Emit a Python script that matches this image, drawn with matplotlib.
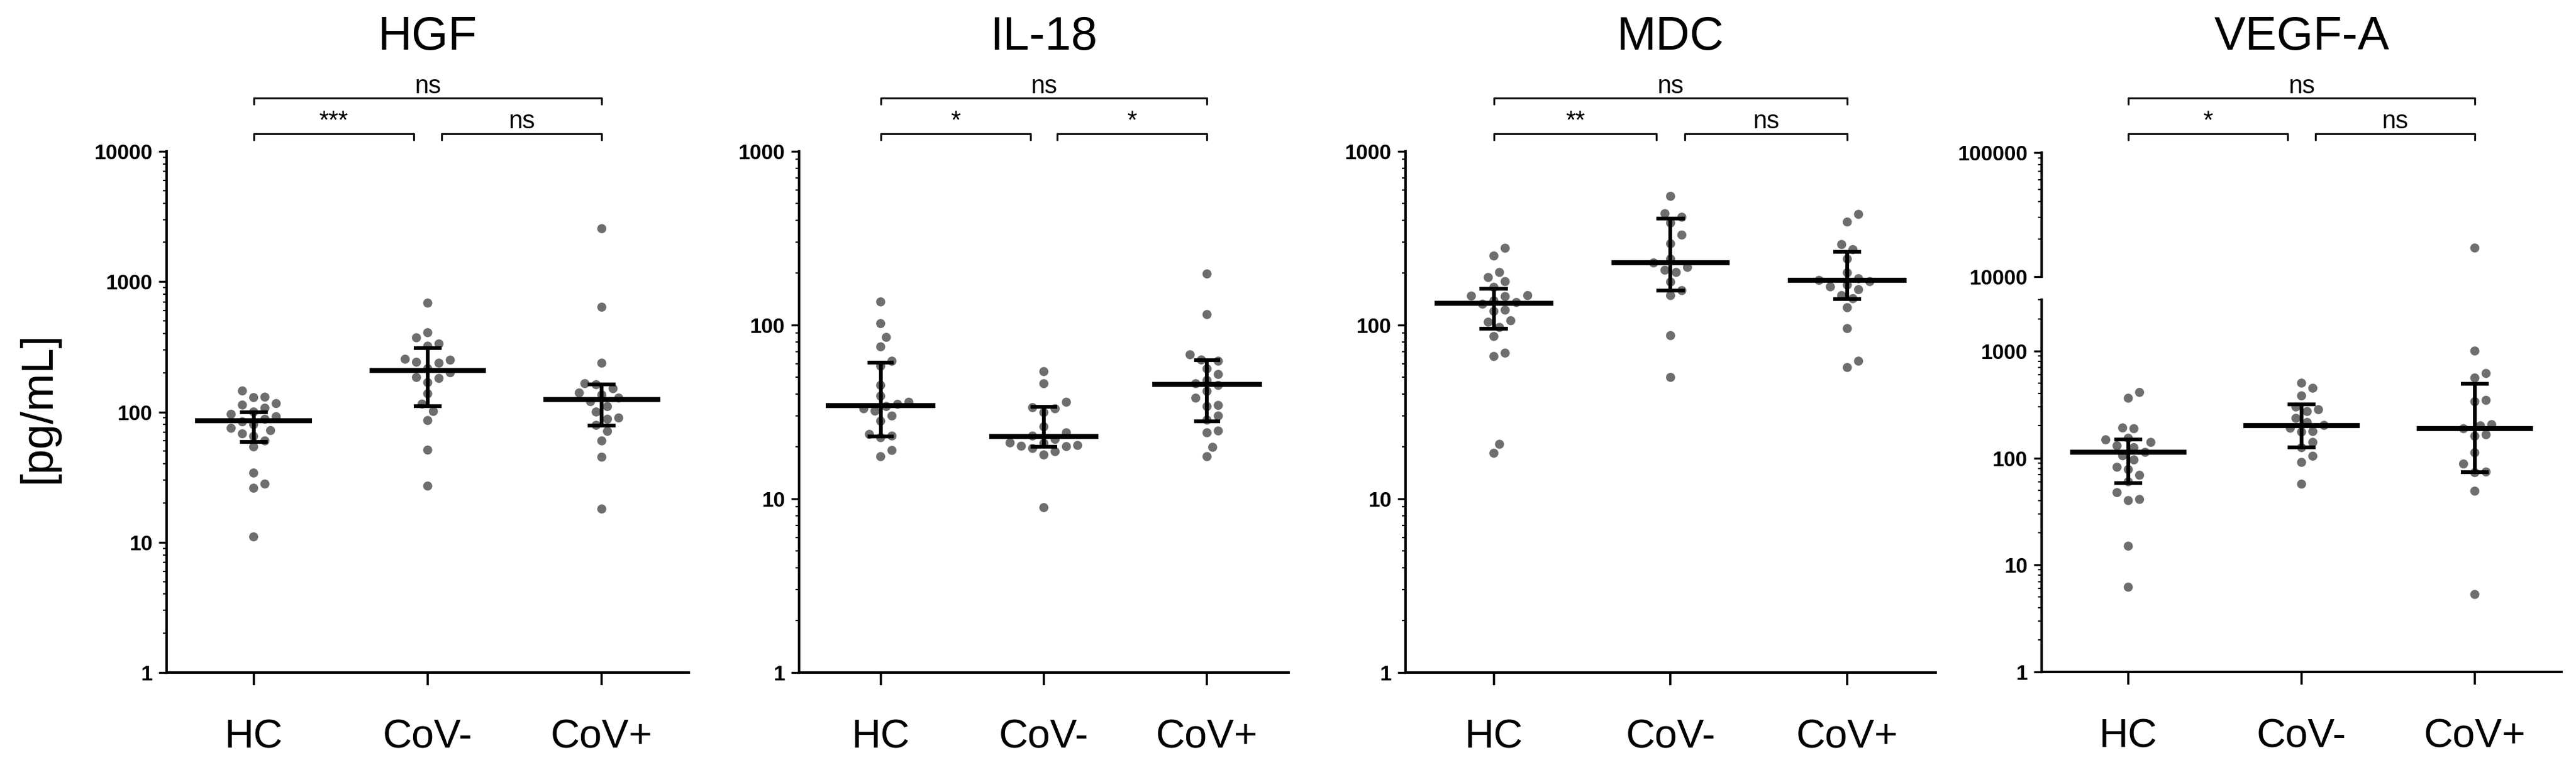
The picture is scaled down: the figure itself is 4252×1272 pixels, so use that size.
import numpy as np
import matplotlib
matplotlib.use("Agg")
import matplotlib.pyplot as plt
from matplotlib.ticker import FixedLocator, FuncFormatter, LogLocator, NullFormatter
from matplotlib.transforms import blended_transform_factory

plt.rcParams["font.family"] = ["Liberation Sans", "DejaVu Sans"]

W, H, DPI = 4252, 1272, 100

GROUPS = ["HC", "CoV-", "CoV+"]

# ---- HGF [pg/mL] ----
hgf_hc = [145, 130, 129, 116, 113, 107, 100, 96, 92, 88, 84, 80, 75, 72, 68, 65, 60, 54, 34, 28, 26, 11]
hgf_covneg = [685, 406, 371, 333, 320, 254, 250, 241, 237, 215, 200, 184, 181, 168, 138, 115, 101, 86, 51, 27]
hgf_covpos = [2550, 637, 237, 165, 162, 151, 140, 135, 128, 120, 110, 100, 90, 88, 79, 71, 60, 45, 18]
hgf_median = [86, 208, 124]
hgf_q1 = [59, 111, 79]
hgf_q3 = [100, 310, 162]
hgf_sig = ["***", "ns", "ns"]   # HC vs CoV-, CoV- vs CoV+, HC vs CoV+

# ---- IL-18 ----
il18_hc = [136, 102, 85, 75, 62, 58, 45, 39, 36, 35, 34, 33, 32, 30, 28, 23.5, 23, 22.5, 19, 17.5]
il18_covneg = [54, 46, 36, 33.5, 33, 31.4, 26, 24, 23, 22, 21, 20.9, 20.3, 20.1, 20, 19.5, 18.7, 17.9, 8.9]
il18_covpos = [197, 115, 67.5, 63, 62, 56, 52, 48, 46, 45, 41.6, 38, 34.5, 34, 30, 28.4, 24.6, 24, 19.8, 17.5]
il18_median = [34.5, 22.9, 45.4]
il18_q1 = [22.9, 20, 27.9]
il18_q3 = [60.6, 33.8, 62.7]
il18_sig = ["*", "*", "ns"]

# ---- MDC ----
mdc_hc = [277, 250, 201, 188, 178, 165, 148, 147, 146, 138, 135, 132, 122, 120, 106, 104, 97, 86, 69, 66, 20.6, 18.3]
mdc_covneg = [551, 438, 418, 387, 330, 294, 240, 228, 215, 207, 201, 177, 158, 148, 87, 50]
mdc_covpos = [434, 392, 291, 272, 240, 200, 185, 181, 178, 170, 166, 160, 148, 142, 126, 95.5, 62, 57]
mdc_median = [133.5, 228, 181]
mdc_q1 = [95.5, 158, 141]
mdc_q3 = [162, 409, 264]
mdc_sig = ["**", "ns", "ns"]

# ---- VEGF-A ----
vegf_hc = [410, 362, 191, 188, 153, 148, 140, 130, 125, 113, 105, 96, 82, 78, 69, 60, 47.5, 41, 40, 15, 6.2]
vegf_covneg = [501, 449, 381, 300, 283, 272, 235, 215, 202, 190, 177, 175, 140, 125, 104, 91, 57]
vegf_covpos = [17000, 1000, 617, 560, 346, 336, 205, 200, 188, 165, 160, 112, 88, 74, 73, 49, 5.3]
vegf_median = [113.5, 202, 188]
vegf_q1 = [58, 125, 74]
vegf_q3 = [148, 316, 494]
vegf_sig = ["*", "ns", "ns"]

DOT_COLOR = "#6e6e6e"
DOT_PX = 15


def fx(px):
    return px / W


def fy(px):
    return 1 - px / H


def swarm_x(ax, values, center):
    """Prism-like scatter: spread points sideways where they would overlap."""
    vals = np.asarray(values, float)
    ys = ax.transData.transform(np.column_stack([np.full(len(vals), center), vals]))[:, 1]
    unit = ax.transData.transform((1, 1))[0] - ax.transData.transform((0, 1))[0]
    step = DOT_PX * 0.62
    cands = [0]
    for n in range(1, 40):
        cands += [n, -n]
    placed, xs = [], np.zeros(len(vals))
    for i in np.argsort(ys):
        for c in cands:
            x = c * step
            if all((x - px) ** 2 + (ys[i] - py) ** 2 >= (DOT_PX * 1.15) ** 2 for px, py in placed):
                break
        placed.append((x, ys[i]))
        xs[i] = center + x / unit
    return xs


def style_log_axis(ax, ylim, majors):
    ax.set_yscale("log")
    ax.set_ylim(*ylim)
    ax.set_xlim(-0.5, 2.5)
    ax.yaxis.set_major_locator(FixedLocator(majors))
    ax.yaxis.set_major_formatter(FuncFormatter(lambda v, p: f"{v:g}"))
    ax.yaxis.set_minor_locator(LogLocator(base=10, subs=np.arange(2, 10), numticks=20))
    ax.yaxis.set_minor_formatter(NullFormatter())
    for s in ["top", "right"]:
        ax.spines[s].set_visible(False)
    for s in ["left", "bottom"]:
        ax.spines[s].set_linewidth(3)
    ax.tick_params(axis="y", which="major", length=9.5, width=2.4, pad=7,
                   labelsize=25, direction="out")
    ax.tick_params(axis="y", which="minor", length=4.5, width=1.6, direction="out")
    for lab in ax.get_yticklabels():
        lab.set_fontweight("bold")
    ax.set_xticks([0, 1, 2])
    ax.set_xticklabels(GROUPS)
    ax.tick_params(axis="x", length=15, width=2.6, pad=40, labelsize=48)
    ax.set_facecolor("none")


def draw_summary(ax, median, q1, q3):
    for i in range(3):
        ax.hlines(median[i], i - 0.335, i + 0.335, color="black", lw=6, zorder=4)
        ax.vlines(i, q1[i], q3[i], color="black", lw=4.5, zorder=4)
        ax.hlines([q1[i], q3[i]], i - 0.08, i + 0.08, color="black", lw=4.5, zorder=4)


def draw_brackets(fig, ax, sig):
    tr = blended_transform_factory(ax.transData, fig.transFigure)
    hook = 10 / H
    spans = [(0, 0.92, 221, 212), (1.08, 2, 221, 212), (0, 2, 162, 154)]
    for (x0, x1, ypx, tpx), lab in zip(spans, sig):
        y = fy(ypx)
        ax.plot([x0, x0, x1, x1], [y - hook, y, y, y - hook], transform=tr,
                color="#111111", lw=2.3, clip_on=False, solid_joinstyle="round",
                solid_capstyle="round")
        ax.text((x0 + x1) / 2, fy(tpx), lab, transform=tr, ha="center",
                va="baseline", fontsize=30)


def draw_title(fig, ax, title):
    tr = blended_transform_factory(ax.transData, fig.transFigure)
    ax.text(1, fy(82), title, transform=tr, ha="center", va="baseline", fontsize=56)


fig = plt.figure(figsize=(W / DPI, H / DPI), dpi=DPI)

panels = [
    ("HGF", [hgf_hc, hgf_covneg, hgf_covpos], hgf_median, hgf_q1, hgf_q3, hgf_sig,
     (1, 10000), [1, 10, 100, 1000, 10000], 275, 862),
    ("IL-18", [il18_hc, il18_covneg, il18_covpos], il18_median, il18_q1, il18_q3, il18_sig,
     (1, 1000), [1, 10, 100, 1000], 1319, 808),
    ("MDC", [mdc_hc, mdc_covneg, mdc_covpos], mdc_median, mdc_q1, mdc_q3, mdc_sig,
     (1, 1000), [1, 10, 100, 1000], 2320, 875),
]

for title, groups, med, q1, q3, sig, ylim, majors, x0, w in panels:
    ax = fig.add_axes([fx(x0), fy(1111), fx(w), (1111 - 250) / H])
    style_log_axis(ax, ylim, majors)
    for i, vals in enumerate(groups):
        ax.scatter(swarm_x(ax, vals, i), vals, s=DOT_PX ** 2 * 0.52, color=DOT_COLOR,
                   edgecolors="none", zorder=3, clip_on=False)
    draw_summary(ax, med, q1, q3)
    draw_brackets(fig, ax, sig)
    draw_title(fig, ax, title)

# VEGF-A with a broken y axis
LOW_TOP = 3000
ax_lo = fig.add_axes([fx(3370), fy(1110), fx(858), (1110 - 495.5) / H])
ax_hi = fig.add_axes([fx(3370), fy(457), fx(858), (457 - 251.6) / H])
style_log_axis(ax_lo, (1, LOW_TOP), [1, 10, 100, 1000])
style_log_axis(ax_hi, (10000, 100000), [10000, 100000])
ax_hi.spines["bottom"].set_visible(False)
ax_hi.set_xticks([])
for i, vals in enumerate([vegf_hc, vegf_covneg, vegf_covpos]):
    vals = np.asarray(vals, float)
    lo, hi = vals[vals <= LOW_TOP], vals[vals > LOW_TOP]
    ax_lo.scatter(swarm_x(ax_lo, lo, i), lo, s=DOT_PX ** 2 * 0.52, color=DOT_COLOR,
                  edgecolors="none", zorder=3, clip_on=False)
    if len(hi):
        ax_hi.scatter(swarm_x(ax_hi, hi, i), hi, s=DOT_PX ** 2 * 0.52, color=DOT_COLOR,
                      edgecolors="none", zorder=3, clip_on=False)
draw_summary(ax_lo, vegf_median, vegf_q1, vegf_q3)
draw_brackets(fig, ax_hi, vegf_sig)
draw_title(fig, ax_hi, "VEGF-A")

fig.text(fx(63), fy(673), "[pg/mL]", rotation=90, ha="center", va="center", fontsize=54)

fig.savefig("out.png", dpi=DPI)
